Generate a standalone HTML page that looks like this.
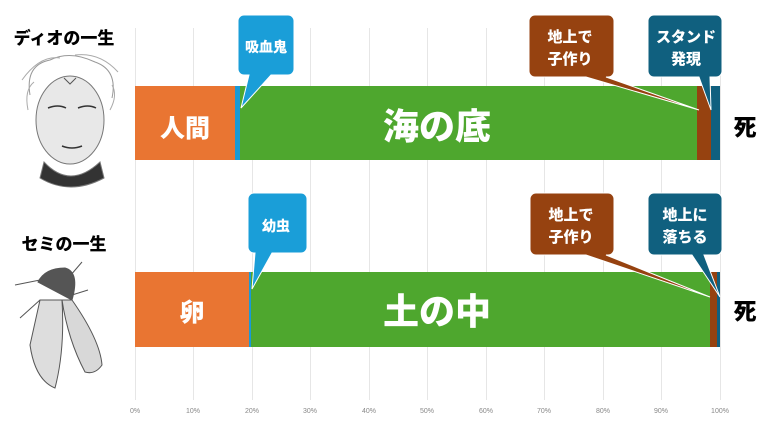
<!DOCTYPE html>
<html><head><meta charset="utf-8"><style>
html,body{margin:0;padding:0;background:#fff;}
svg{display:block;}
text{font-family:"Liberation Sans","Noto Sans CJK JP",sans-serif;font-weight:900;}
</style></head><body>
<svg width="768" height="432" viewBox="0 0 768 432" xmlns="http://www.w3.org/2000/svg">
<rect width="768" height="432" fill="#fff"/>
<g stroke="#e6e6e6" stroke-width="1">
<line x1="135.5" y1="28" x2="135.5" y2="400"/><line x1="193.5" y1="28" x2="193.5" y2="400"/>
<line x1="252.5" y1="28" x2="252.5" y2="400"/><line x1="310.5" y1="28" x2="310.5" y2="400"/>
<line x1="369.5" y1="28" x2="369.5" y2="400"/><line x1="427.5" y1="28" x2="427.5" y2="400"/>
<line x1="486.5" y1="28" x2="486.5" y2="400"/><line x1="544.5" y1="28" x2="544.5" y2="400"/>
<line x1="603.5" y1="28" x2="603.5" y2="400"/><line x1="661.5" y1="28" x2="661.5" y2="400"/>
<line x1="720.5" y1="28" x2="720.5" y2="400"/>
</g>
<g font-size="7" fill="#888" text-anchor="middle">
<text x="135" y="413" style="font-weight:400">0%</text><text x="193" y="413" style="font-weight:400">10%</text>
<text x="252" y="413" style="font-weight:400">20%</text><text x="310" y="413" style="font-weight:400">30%</text>
<text x="369" y="413" style="font-weight:400">40%</text><text x="427" y="413" style="font-weight:400">50%</text>
<text x="486" y="413" style="font-weight:400">60%</text><text x="544" y="413" style="font-weight:400">70%</text>
<text x="603" y="413" style="font-weight:400">80%</text><text x="661" y="413" style="font-weight:400">90%</text>
<text x="720" y="413" style="font-weight:400">100%</text>
</g>
<!-- bar 1 -->
<rect x="135" y="86" width="100" height="74" fill="#e97532"/>
<rect x="235" y="86" width="5" height="74" fill="#1a9ad6"/>
<rect x="240" y="86" width="457" height="74" fill="#4ea72e"/>
<rect x="697" y="86" width="14" height="74" fill="#964210"/>
<rect x="711" y="86" width="9" height="74" fill="#10607f"/>
<text x="185" y="137" font-size="25" fill="#fff" text-anchor="middle">人間</text>
<text x="437" y="139" font-size="36" fill="#fff" text-anchor="middle">海の底</text>
<text x="745" y="135" font-size="23" fill="#000" text-anchor="middle">死</text>
<!-- bar 2 -->
<rect x="135" y="272" width="114" height="75" fill="#e97532"/>
<rect x="249" y="272" width="2" height="75" fill="#1a9ad6"/>
<rect x="251" y="272" width="459" height="75" fill="#4ea72e"/>
<rect x="710" y="272" width="7" height="75" fill="#964210"/>
<rect x="717" y="272" width="3" height="75" fill="#10607f"/>
<text x="192" y="321" font-size="25" fill="#fff" text-anchor="middle">卵</text>
<text x="437" y="324" font-size="36" fill="#fff" text-anchor="middle">土の中</text>
<text x="745" y="319" font-size="23" fill="#000" text-anchor="middle">死</text>
<!-- callouts bar1 -->
<path d="M244,15 h44 a6,6 0 0 1 6,6 v48 a6,6 0 0 1 -6,6 h-17 l-30,33 l8,-33 h-5 a6,6 0 0 1 -6,-6 v-48 a6,6 0 0 1 6,-6z" fill="#1a9ed8" stroke="#fff" stroke-width="1"/>
<text x="266" y="52" font-size="14" fill="#fff" text-anchor="middle">吸血鬼</text>
<path d="M535,15 h73 a6,6 0 0 1 6,6 v50 a6,6 0 0 1 -6,6 h-2 l93,33 l-113,-33 h-51 a6,6 0 0 1 -6,-6 v-50 a6,6 0 0 1 6,-6z" fill="#964210" stroke="#fff" stroke-width="1"/>
<text x="570" y="42" font-size="15" fill="#fff" text-anchor="middle">地上で</text>
<text x="570" y="64" font-size="15" fill="#fff" text-anchor="middle">子作り</text>
<path d="M654,15 h62 a6,6 0 0 1 6,6 v50 a6,6 0 0 1 -6,6 h-6 l1,33 l-12,-33 h-45 a6,6 0 0 1 -6,-6 v-50 a6,6 0 0 1 6,-6z" fill="#10607f" stroke="#fff" stroke-width="1"/>
<text x="686" y="42" font-size="15" fill="#fff" text-anchor="middle">スタンド</text>
<text x="686" y="64" font-size="15" fill="#fff" text-anchor="middle">発現</text>
<!-- callouts bar2 -->
<path d="M254,193 h47 a6,6 0 0 1 6,6 v48 a6,6 0 0 1 -6,6 h-29 l-20,36 l3,-36 h-1 a6,6 0 0 1 -6,-6 v-48 a6,6 0 0 1 6,-6z" fill="#1a9ed8" stroke="#fff" stroke-width="1"/>
<text x="276" y="231" font-size="14" fill="#fff" text-anchor="middle">幼虫</text>
<path d="M536,193 h72 a6,6 0 0 1 6,6 v50 a6,6 0 0 1 -6,6 h-2 l104,42 l-124,-42 h-50 a6,6 0 0 1 -6,-6 v-50 a6,6 0 0 1 6,-6z" fill="#964210" stroke="#fff" stroke-width="1"/>
<text x="571" y="220" font-size="15" fill="#fff" text-anchor="middle">地上で</text>
<text x="571" y="242" font-size="15" fill="#fff" text-anchor="middle">子作り</text>
<path d="M654,193 h62 a6,6 0 0 1 6,6 v50 a6,6 0 0 1 -6,6 h-12 l16,42 l-28,-42 h-38 a6,6 0 0 1 -6,-6 v-50 a6,6 0 0 1 6,-6z" fill="#10607f" stroke="#fff" stroke-width="1"/>
<text x="685" y="220" font-size="15" fill="#fff" text-anchor="middle">地上に</text>
<text x="685" y="242" font-size="15" fill="#fff" text-anchor="middle">落ちる</text>
<!-- left titles -->
<text x="64" y="44" font-size="17" fill="#000" text-anchor="middle">ディオの一生</text>
<text x="64" y="250" font-size="17" fill="#000" text-anchor="middle">セミの一生</text>
<!-- Dio sketch placeholder -->
<g fill="none" stroke="#777" stroke-width="1">
<path d="M30,95 Q25,65 50,60 Q70,50 95,62 Q118,70 112,98" stroke="#999"/>
<path d="M22,80 Q40,55 60,58 M75,55 Q100,52 118,72 M28,110 Q24,90 34,82 M110,110 Q118,95 112,85" stroke="#aaa"/>
<ellipse cx="70" cy="120" rx="34" ry="44" fill="#e8e8e8" stroke="#777"/>
<path d="M48,108 q10,-4 18,0 M78,108 q10,-4 18,0 M62,146 q10,4 20,0" stroke="#333" stroke-width="1.5"/>
<path d="M44,162 Q70,190 100,162 L104,178 Q70,196 40,178Z" fill="#333"/>
<path d="M64,78 l6,6 l6,-6" stroke="#555"/>
</g>
<!-- cicada placeholder -->
<g stroke="#555" stroke-width="1">
<path d="M38,282 Q45,268 65,268 Q80,272 72,300 Z" fill="#555"/>
<path d="M40,300 L30,345 Q35,380 55,388 Q65,350 62,300Z" fill="#ddd"/>
<path d="M62,300 L72,300 Q100,340 102,365 Q95,375 85,372 Q68,340 62,300Z" fill="#d8d8d8"/>
<path d="M40,280 L15,285 M70,276 L82,262 M40,300 L20,318 M72,295 L88,290" fill="none"/>
</g>
</svg>
</body></html>
